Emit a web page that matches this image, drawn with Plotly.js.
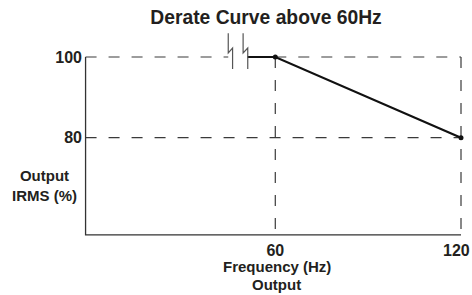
<!DOCTYPE html>
<html>
<head>
<meta charset="utf-8">
<script src="https://cdn.plot.ly/plotly-3.0.1.min.js"></script>
<style>
  html, body { margin: 0; padding: 0; background: #fff; }
  #chart { width: 472px; height: 295px; }
</style>
</head>
<body>
<div id="chart"></div>
<script>
// ---- data ----
const xTicks = [60, 120];
const xTickLabels = ['60', '120'];
const yTicks = [80, 100];
const yTickLabels = ['80', '100'];
const freq = [51, 60, 120];          // Hz (line starts just after the axis break)
const output = [100, 100, 80];       // Output IRMS (%)
const markerFreq = [60, 120];
const markerOutput = [100, 80];
const xOrigin = -1.3;                // where the drawn axes meet
const yOrigin = 55.9;
const breakX = [44.8, 46.2, 49.6, 51.1]; // axis-break glyph columns

const FONT = 'Liberation Sans, Arial, Helvetica, sans-serif';
const TXT = '#231f20';
const DASH = '11px,12px';

const traces = [
  { // horizontal dashed reference lines
    x: [xOrigin, breakX[0], null, xTicks[0], xTicks[1], null, xOrigin, xTicks[1]],
    y: [yTicks[1], yTicks[1], null, yTicks[1], yTicks[1], null, yTicks[0], yTicks[0]],
    mode: 'lines', line: { color: '#3a3a3a', width: 1.2, dash: DASH },
    hoverinfo: 'skip', showlegend: false
  },
  { // vertical dashed reference lines
    x: [xTicks[0], xTicks[0], null, xTicks[1], xTicks[1]],
    y: [yTicks[1], yOrigin, null, yTicks[1], yOrigin],
    mode: 'lines', line: { color: '#3a3a3a', width: 1.2, dash: DASH },
    hoverinfo: 'skip', showlegend: false
  },
  { // axes
    x: [xOrigin, xOrigin, xTicks[1]],
    y: [yTicks[1], yOrigin, yOrigin],
    mode: 'lines', line: { color: '#333', width: 1.3 },
    hoverinfo: 'skip', showlegend: false
  },
  { // derate curve
    x: freq, y: output, mode: 'lines',
    line: { color: '#111', width: 2.2 },
    showlegend: false
  },
  {
    x: markerFreq, y: markerOutput, mode: 'markers',
    marker: { color: '#111', size: 5 }, cliponaxis: false,
    showlegend: false
  }
];

const yTop = 105.9, yUp = 101.0, yMid = 102.2, yBot = 97.0;
function breakPath(x1, x2) {
  return { type: 'path', xref: 'x', yref: 'y',
    path: `M ${x1},${yTop} L ${x1},${yUp} L ${x2},${yMid} L ${x2},${yBot}`,
    line: { color: '#555', width: 1.2 } };
}

const tickFont = { family: FONT, size: 16, color: TXT, weight: 'bold' };
const titleFont = { family: FONT, size: 15, color: TXT, weight: 'bold' };

const layout = {
  width: 472, height: 295,
  margin: { l: 83, r: 5, t: 31, b: 56, pad: 0 },
  paper_bgcolor: '#fff', plot_bgcolor: '#fff',
  font: { family: FONT, color: TXT, size: 15, weight: 'bold' },
  title: {
    text: 'Derate Curve above 60Hz',
    font: { family: FONT, size: 19.3, color: TXT, weight: 'bold' },
    xref: 'container', yref: 'container', x: 0.5636, y: 0.942,
    xanchor: 'center', yanchor: 'middle'
  },
  xaxis: {
    range: [-2.13, 121.94], tickvals: xTicks.slice(0, 1), ticktext: xTickLabels.slice(0, 1),
    showgrid: false, zeroline: false, showline: false, ticks: '',
    tickfont: tickFont
  },
  yaxis: {
    range: [54.9, 106.44], tickvals: yTicks, ticktext: yTickLabels,
    showgrid: false, zeroline: false, showline: false, ticks: '',
    tickfont: tickFont
  },
  shapes: [breakPath(breakX[0], breakX[1]), breakPath(breakX[2], breakX[3])],
  annotations: [
    { // last x tick label, kept inside the page edge
      text: xTickLabels[1], xref: 'x', yref: 'paper', x: xTicks[1], y: 0,
      xanchor: 'right', yanchor: 'top', xshift: 11, yshift: -1, showarrow: false,
      font: tickFont },
    { text: 'Output<br>IRMS (%)', xref: 'paper', yref: 'paper',
      x: -0.099, y: 0.255, xanchor: 'center', yanchor: 'middle', showarrow: false,
      font: titleFont },
    { text: 'Frequency (Hz)', xref: 'paper', yref: 'paper',
      x: 0.504, y: -0.1335, xanchor: 'center', yanchor: 'middle', showarrow: false,
      font: titleFont },
    { text: 'Output', xref: 'paper', yref: 'paper',
      x: 0.503, y: -0.2184, xanchor: 'center', yanchor: 'middle', showarrow: false,
      font: titleFont }
  ]
};

Plotly.newPlot('chart', traces, layout, { displayModeBar: false, staticPlot: true });
</script>
</body>
</html>
